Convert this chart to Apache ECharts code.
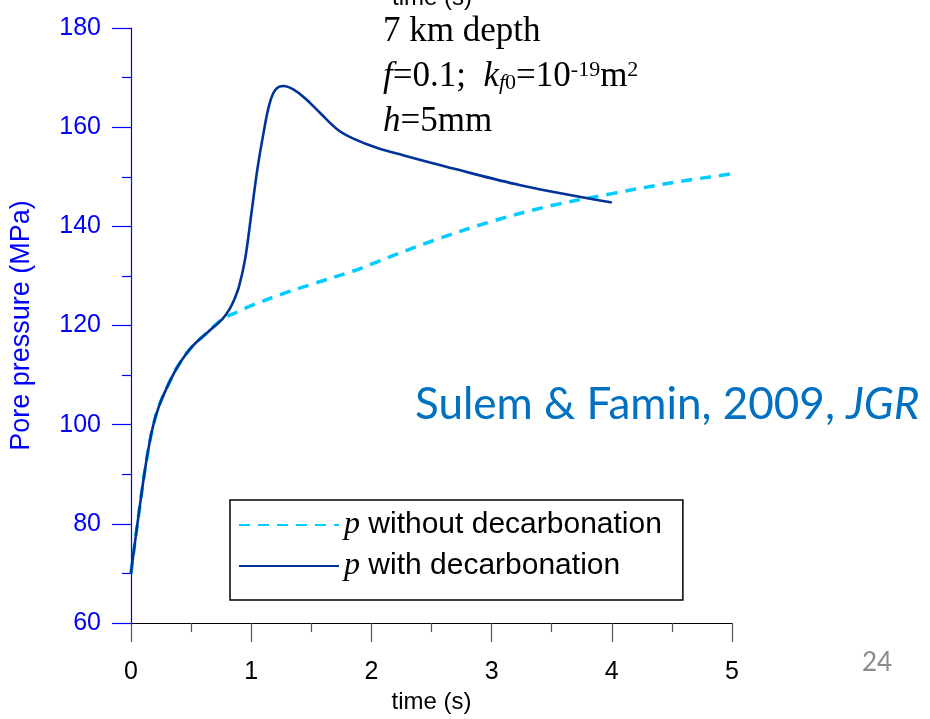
<!DOCTYPE html>
<html>
<head>
<meta charset="utf-8">
<script src="https://cdn.jsdelivr.net/npm/echarts@6/dist/echarts.min.js"></script>
<style>
html,body{margin:0;padding:0;background:#fff;}
#chart{width:930px;height:719px;}
</style>
</head>
<body>
<div id="chart"></div>
<script>
// ---- data ----
var xTicks = [0, 1, 2, 3, 4, 5];
var yTicks = [60, 80, 100, 120, 140, 160, 180];

var tWithout = [0, 0.014, 0.07, 0.125, 0.18, 0.235, 0.32, 0.4, 0.51, 0.65, 0.76, 0.9, 1.0, 1.25, 1.5, 1.85, 2.0, 2.5, 3.0, 3.5, 4.0, 4.5, 5.0];
var pWithout = [70, 72.8, 83, 92.3, 99.4, 103.9, 108.6, 112.2, 115.8, 118.9, 121.3, 122.9, 124.0, 126.3, 128.3, 131.0, 132.4, 137.0, 141.0, 144.2, 146.6, 148.8, 150.6];

var tWith = [0, 0.014, 0.07, 0.125, 0.18, 0.235, 0.32, 0.4, 0.51, 0.65, 0.76, 0.82, 0.86, 0.9, 0.95, 1.0, 1.05, 1.1, 1.15, 1.2, 1.27, 1.35, 1.45, 1.58, 1.72, 1.85, 2.05, 2.27, 2.69, 3.24, 4.0];
var pWith = [70, 72.8, 83, 92.3, 99.4, 103.9, 108.6, 112.2, 115.8, 118.9, 121.3, 123.3, 125.3, 128.0, 133.5, 142.3, 151.3, 158.5, 164.5, 167.5, 168.3, 167.6, 165.8, 162.7, 159.5, 157.7, 155.8, 154.3, 151.6, 148.3, 144.8];

var nameWithout = 'without decarbonation';
var nameWith = 'with decarbonation';

function pairs(t, p) { return t.map(function (x, i) { return [x, p[i]]; }); }

var chart = echarts.init(document.getElementById('chart'));
var sans = 'Liberation Sans, Arial, sans-serif';
var serif = 'Liberation Serif, Times New Roman, serif';
var calib = 'Lato, "Open Sans", sans-serif';

chart.setOption({
  animation: false,
  backgroundColor: '#ffffff',
  grid: { left: 130, right: 198, top: 28, bottom: 91, containLabel: false },
  xAxis: {
    type: 'value', min: xTicks[0], max: xTicks[xTicks.length - 1], interval: 1,
    name: 'time (s)', nameLocation: 'middle', nameGap: 65,
    nameTextStyle: { color: '#000', fontSize: 24, fontFamily: sans },
    axisLine: { onZero: false, lineStyle: { color: '#000', width: 1.2 } },
    axisTick: { show: true, length: 19, lineStyle: { color: '#555', width: 1.2 } },
    minorTick: { show: true, splitNumber: 2, length: 9, lineStyle: { color: '#555', width: 1.2 } },
    axisLabel: { color: '#000', fontSize: 25, fontFamily: sans, margin: 37 },
    splitLine: { show: false }, minorSplitLine: { show: false }
  },
  yAxis: {
    type: 'value', min: yTicks[0], max: yTicks[yTicks.length - 1], interval: 20,
    name: 'Pore pressure (MPa)', nameLocation: 'middle', nameGap: 96,
    nameTextStyle: { color: '#0000FF', fontSize: 27, fontFamily: sans },
    axisLine: { lineStyle: { color: '#0000FF', width: 1.2 } },
    axisTick: { show: true, length: 19, lineStyle: { color: '#0000FF', width: 1.2 } },
    minorTick: { show: true, splitNumber: 2, length: 9, lineStyle: { color: '#0000FF', width: 1.2 } },
    axisLabel: { color: '#0000FF', fontSize: 25, fontFamily: sans, margin: 30 },
    splitLine: { show: false }, minorSplitLine: { show: false }
  },
  legend: {
    orient: 'vertical', left: 230, top: 500,
    data: [nameWithout, nameWith],
    itemWidth: 100, itemHeight: 30, itemGap: 9,
    padding: [9, 21, 18, 8],
    borderColor: '#000', borderWidth: 1.5, backgroundColor: '#fff',
    selectedMode: false,
    itemStyle: { opacity: 0, borderWidth: 0 },
    formatter: function (n) { return '{p|p} ' + n; },
    textStyle: {
      color: '#000', fontSize: 30, fontFamily: sans, lineHeight: 30,
      rich: { p: { fontFamily: serif, fontStyle: 'italic', fontSize: 32, lineHeight: 30, color: '#000' } }
    }
  },
  series: [
    {
      name: nameWithout, type: 'line', data: pairs(tWithout, pWithout),
      smooth: 0.35, symbol: 'none', z: 2,
      lineStyle: { color: '#00CCFF', width: 3.5, type: [11, 8] },
      itemStyle: { color: '#00CCFF' }
    },
    {
      name: nameWith, type: 'line', data: pairs(tWith, pWith),
      smooth: 0.35, symbol: 'none', z: 3,
      lineStyle: { color: '#003399', width: 2.6 },
      itemStyle: { color: '#003399' }
    }
  ],
  graphic: [
    { type: 'text', silent: true,
      style: { x: 432, y: -14, text: 'time (s)', fill: '#000', font: '24px ' + sans, textAlign: 'center', textVerticalAlign: 'top' } },
    { type: 'text', x: 383, y: 14, silent: true,
      style: { text: '7 km depth', fill: '#000', font: '35px ' + serif } },
    { type: 'text', x: 383, y: 59, silent: true,
      style: {
        text: '{i|f}=0.1;  {i|k}{sub|f}{sub0|0}=10{sup|-19}m{sup|2}',
        fill: '#000', font: '35px ' + serif,
        rich: {
          i: { fontFamily: serif, fontStyle: 'italic', fontSize: 35 },
          sub: { fontFamily: serif, fontStyle: 'italic', fontSize: 22, verticalAlign: 'bottom' },
          sub0: { fontFamily: serif, fontSize: 22, verticalAlign: 'bottom' },
          sup: { fontFamily: serif, fontSize: 22, verticalAlign: 'top' }
        }
      } },
    { type: 'text', x: 383, y: 104, silent: true,
      style: {
        text: '{i|h}=5mm', fill: '#000', font: '35px ' + serif,
        rich: { i: { fontFamily: serif, fontStyle: 'italic', fontSize: 35 } }
      } },
    { type: 'text', silent: true,
      style: {
        x: 415, y: 405, textVerticalAlign: 'middle',
        text: 'Sulem & Famin, 2009, {i|JGR}', fill: '#0070C0', font: '44px ' + calib,
        rich: { i: { fontFamily: calib, fontStyle: 'italic', fontSize: 44, fill: '#0070C0', color: '#0070C0' } }
      } },
    { type: 'text', x: 862, y: 650, silent: true,
      style: { text: '24', fill: '#8C8C8C', font: '26px ' + calib } }
  ]
});
</script>
</body>
</html>
